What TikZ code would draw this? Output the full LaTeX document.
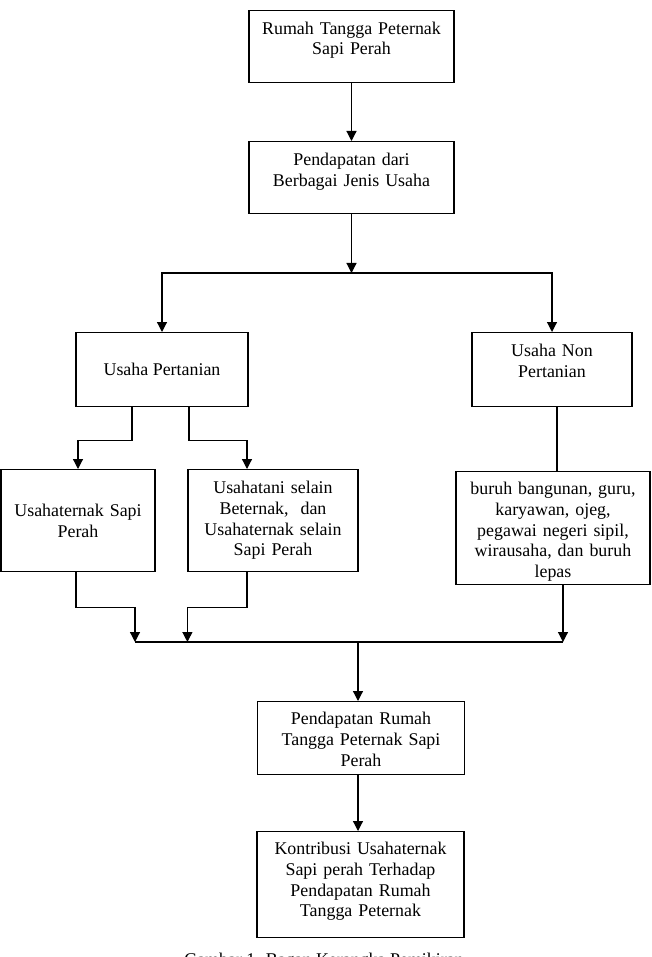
\documentclass[tikz,border=0pt]{standalone}
\usepackage{fontspec}
\setmainfont{Liberation Serif}
\usetikzlibrary{arrows.meta}

\begin{document}
\begin{tikzpicture}[x=1pt, y=-1pt, line width=1.2pt,
    font=\fontsize{17.9}{20.7}\selectfont,
    >={Triangle[length=10pt, width=10pt]},
    box/.style={draw, align=center, anchor=north, inner xsep=0pt, inner ysep=0pt}]
      \useasboundingbox (0,0) rectangle (651,957);
      \node[box, text width=205pt, text height=23.5pt, text depth=48.5pt] (rumah) at (351.5,10)
        {Rumah Tangga Peternak\\Sapi Perah};
      \node[box, text width=205pt, text height=24pt, text depth=48pt] (dari) at (351.5,141)
        {Pendapatan dari\\Berbagai Jenis Usaha};
      \node[box, minimum width=172pt, minimum height=74pt] (tani) at (162,332)
        {Usaha Pertanian};
      \node[box, text width=160pt, text height=24pt, text depth=50pt] (nontani) at (552,332)
        {Usaha Non\\Pertanian};
      \node[box, text width=154pt, minimum height=102pt] (ternak) at (78,469)
        {Usahaternak Sapi\\Perah};
      \node[box, text width=170pt, text height=24pt, text depth=78pt] (selain) at (273,469)
        {Usahatani selain\\Beternak,\ \ dan\\Usahaternak selain\\Sapi Perah};
      \node[box, text width=194pt, text height=23pt, text depth=90pt] (buruh) at (553,471)
        {buruh bangunan, guru,\\karyawan, ojeg,\\pegawai negeri sipil,\\wirausaha, dan buruh\\lepas};
      \node[box, text width=207pt, text height=23pt, text depth=50pt] (pend) at (361,701)
        {Pendapatan Rumah\\Tangga Peternak Sapi\\Perah};
      \node[box, text width=207pt, text height=23pt, text depth=83pt] (kontrib) at (360.5,831)
        {Kontribusi Usahaternak\\Sapi perah Terhadap\\Pendapatan Rumah\\Tangga Peternak};
      \node[anchor=base, inner sep=0pt] (judul) at (324,965) {Gambar 1. Bagan Kerangka Pemikiran};

      \coordinate (cabang) at (351.5,273);
      \coordinate (kiri) at (135,642);
      \coordinate (kanan) at (563,642);
      \coordinate (gabung) at (358,642);

      \draw[->] (rumah) -- (dari);
      \draw[->] (dari) -- (cabang);
      \draw[->] (cabang) -| (tani.north);
      \draw[->] (cabang) -| (nontani.north);
      \draw[->] ([xshift=-30pt]tani.south) -- ++(0,33) -| (ternak.north);
      \draw[->] ([xshift=27pt]tani.south) -- ++(0,33) -| ([xshift=-26pt]selain.north);
      \draw ([xshift=5pt]nontani.south) -- ([xshift=4pt]buruh.north);
      \draw (kiri) -- (kanan);
      \draw[->] ([xshift=-2pt]ternak.south) -- ++(0,35) -| (kiri);
      \draw[->] ([xshift=-26pt]selain.south) -- ++(0,35) -| (selain.south west |- kiri);
      \draw[->] ([xshift=10pt]buruh.south) -- (kanan);
      \draw[->] (gabung) -- (gabung |- pend.north);
      \draw[->] (gabung |- pend.south) -- (gabung |- kontrib.north);
    \end{tikzpicture}
\end{document}
